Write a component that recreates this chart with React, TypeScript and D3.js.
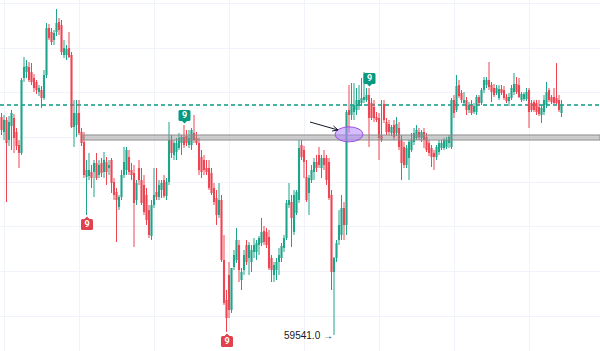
import { useEffect, useRef } from "react";
import * as d3 from "d3";

// OHLC, one entry per candle
const opens = [
  60195, 60150, 60186, 60126, 60168, 60192, 60150, 60111, 60087, 60312,
  60330, 60345, 60330, 60312, 60300, 60270, 60276, 60252, 60321, 60462,
  60450, 60426, 60450, 60480, 60471, 60381, 60381, 60402, 60381, 60165,
  60171, 60207, 60150, 60120, 60015, 60018, 60030, 60030, 60057, 60021,
  60057, 60030, 60060, 60042, 60066, 60000, 59970, 59925, 59955, 60021,
  60036, 60075, 60036, 60027, 59946, 60042, 60006, 59991, 59961, 59916,
  59838, 59931, 59970, 59955, 59976, 60006, 59958, 60000, 60126, 60081,
  60090, 60102, 60117, 60135, 60138, 60111, 60111, 60147, 60132, 60117,
  60075, 60066, 60042, 60042, 60027, 59982, 59952, 59901, 59946, 59766,
  59646, 59721, 59616, 59745, 59766, 59811, 59706, 59736, 59811, 59772,
  59760, 59790, 59790, 59811, 59817, 59853, 59850, 59835, 59772, 59721,
  59736, 59760, 59772, 59802, 59832, 59931, 59940, 59850, 59907, 59946,
  60111, 60096, 60015, 59967, 60006, 60030, 60060, 60081, 60042, 60072,
  60072, 60060, 59961, 59730, 59772, 59826, 59841, 59922, 59871, 60216,
  60201, 60210, 60216, 60228, 60237, 60246, 60246, 60261, 60237, 60225,
  60195, 60192, 60141, 60234, 60180, 60174, 60147, 60171, 60147, 60162,
  60126, 60105, 60051, 60072, 60096, 60120, 60132, 60150, 60132, 60150,
  60135, 60117, 60102, 60087, 60075, 60090, 60102, 60102, 60105, 60117,
  60105, 60246, 60216, 60291, 60267, 60237, 60246, 60216, 60231, 60210,
  60210, 60255, 60237, 60276, 60291, 60306, 60291, 60282, 60267, 60252,
  60279, 60276, 60255, 60243, 60252, 60270, 60294, 60291, 60246, 60249,
  60249, 60276, 60237, 60240, 60237, 60225, 60201, 60210, 60231, 60276,
  60255, 60255, 60252, 60246, 60207,
];
const highs = [
  60207, 60201, 60195, 60198, 60216, 60204, 60162, 60126, 60312, 60375,
  60366, 60360, 60357, 60324, 60306, 60291, 60288, 60336, 60477, 60474,
  60462, 60456, 60519, 60492, 60486, 60426, 60411, 60450, 60390, 60246,
  60246, 60246, 60162, 60150, 60066, 60087, 60051, 60066, 60087, 60066,
  60072, 60090, 60075, 60066, 60072, 60012, 59982, 59961, 60036, 60105,
  60105, 60096, 60057, 60051, 60006, 60066, 60042, 60021, 59982, 59931,
  59946, 60042, 60042, 60006, 60006, 60021, 60012, 60180, 60141, 60126,
  60132, 60147, 60141, 60171, 60156, 60156, 60162, 60201, 60150, 60132,
  60096, 60081, 60066, 60066, 60042, 59997, 59976, 59997, 59961, 59841,
  59676, 59760, 59736, 59796, 59862, 59826, 59742, 59796, 59826, 59820,
  59811, 59832, 59826, 59838, 59892, 59868, 59862, 59856, 59781, 59760,
  59772, 59802, 59817, 59841, 59946, 59997, 59961, 59976, 59976, 60126,
  60126, 60108, 60066, 60021, 60051, 60072, 60081, 60105, 60081, 60096,
  60081, 60072, 59976, 59775, 59826, 59916, 59961, 59940, 60216, 60291,
  60297, 60297, 60282, 60291, 60312, 60330, 60282, 60282, 60252, 60246,
  60210, 60207, 60246, 60246, 60192, 60186, 60171, 60186, 60195, 60180,
  60141, 60120, 60111, 60126, 60147, 60162, 60171, 60162, 60156, 60162,
  60147, 60126, 60111, 60096, 60111, 60126, 60126, 60132, 60135, 60141,
  60252, 60261, 60321, 60306, 60276, 60270, 60255, 60240, 60246, 60237,
  60261, 60261, 60282, 60315, 60315, 60360, 60300, 60294, 60291, 60291,
  60291, 60288, 60264, 60267, 60291, 60327, 60315, 60312, 60270, 60270,
  60282, 60282, 60246, 60246, 60246, 60246, 60231, 60261, 60300, 60282,
  60261, 60282, 60357, 60261, 60246,
];
const lows = [
  60141, 60126, 59940, 60108, 60096, 60087, 60096, 60042, 60081, 60300,
  60312, 60300, 60291, 60270, 60264, 60258, 60222, 60246, 60312, 60426,
  60411, 60411, 60438, 60441, 60381, 60372, 60366, 60372, 60162, 60105,
  60135, 60141, 60108, 60012, 59901, 60006, 59982, 59955, 60006, 60012,
  60015, 60012, 59991, 60021, 59967, 59946, 59820, 59916, 59946, 60012,
  60021, 60021, 60006, 59805, 59931, 59991, 59931, 59901, 59871, 59832,
  59826, 59922, 59946, 59946, 59952, 59952, 59946, 59991, 60072, 60066,
  60066, 60096, 60081, 60102, 60108, 60102, 60096, 60117, 60111, 60021,
  60012, 60021, 60021, 59976, 59961, 59931, 59871, 59892, 59760, 59631,
  59550, 59592, 59607, 59736, 59757, 59700, 59676, 59721, 59751, 59721,
  59730, 59772, 59766, 59781, 59808, 59811, 59802, 59736, 59700, 59700,
  59706, 59721, 59760, 59790, 59826, 59922, 59805, 59841, 59901, 59937,
  60066, 60012, 59940, 59901, 59997, 60006, 60030, 60042, 60012, 60036,
  59991, 59946, 59676, 59541, 59760, 59811, 59826, 59826, 59841, 60147,
  60186, 60186, 60201, 60216, 60228, 60237, 60240, 60105, 60186, 60180,
  60180, 60066, 60120, 60177, 60141, 60141, 60138, 60126, 60138, 60096,
  60006, 60042, 60042, 60006, 60090, 60111, 60126, 60126, 60120, 60102,
  60090, 60078, 60045, 60036, 60066, 60081, 60096, 60096, 60099, 60102,
  60099, 60192, 60210, 60252, 60237, 60231, 60201, 60207, 60201, 60204,
  60201, 60231, 60231, 60267, 60282, 60276, 60240, 60255, 60261, 60246,
  60261, 60246, 60237, 60228, 60246, 60261, 60264, 60252, 60240, 60243,
  60243, 60162, 60210, 60210, 60201, 60198, 60177, 60201, 60222, 60240,
  60234, 60234, 60234, 60210, 60195,
];
const closes = [
  60156, 60186, 60117, 60180, 60207, 60132, 60108, 60087, 60306, 60345,
  60348, 60306, 60300, 60282, 60276, 60282, 60252, 60321, 60462, 60432,
  60420, 60447, 60477, 60456, 60390, 60402, 60399, 60375, 60165, 60207,
  60207, 60147, 60117, 60021, 60036, 60036, 60012, 60057, 60012, 60051,
  60027, 60066, 60030, 60051, 59997, 59961, 59946, 59955, 60021, 60060,
  60096, 60030, 60021, 59937, 59997, 60006, 59937, 59910, 59886, 59841,
  59931, 59961, 59955, 59991, 59997, 59958, 60000, 60126, 60087, 60117,
  60117, 60132, 60135, 60111, 60117, 60132, 60156, 60126, 60117, 60036,
  60030, 60036, 60030, 59982, 59967, 59940, 59901, 59946, 59766, 59637,
  59592, 59616, 59742, 59781, 59826, 59736, 59730, 59781, 59760, 59811,
  59796, 59811, 59817, 59832, 59850, 59820, 59811, 59742, 59736, 59751,
  59760, 59781, 59808, 59832, 59937, 59946, 59892, 59961, 59970, 60102,
  60075, 60060, 59946, 60012, 60036, 60060, 60042, 60051, 60072, 60051,
  60006, 59952, 59730, 59772, 59817, 59871, 59922, 59871, 60210, 60201,
  60231, 60231, 60246, 60246, 60252, 60255, 60261, 60192, 60192, 60192,
  60186, 60132, 60126, 60186, 60150, 60150, 60165, 60135, 60174, 60105,
  60057, 60051, 60102, 60120, 60126, 60147, 60156, 60135, 60150, 60126,
  60096, 60087, 60075, 60075, 60105, 60117, 60117, 60126, 60126, 60135,
  60246, 60207, 60288, 60258, 60246, 60246, 60216, 60231, 60207, 60228,
  60255, 60237, 60276, 60306, 60306, 60285, 60270, 60261, 60282, 60279,
  60267, 60252, 60243, 60255, 60282, 60294, 60270, 60255, 60264, 60264,
  60270, 60210, 60216, 60216, 60210, 60204, 60222, 60246, 60270, 60246,
  60240, 60237, 60237, 60216, 60231,
];

// grid
const gridPrices = [60537, 60403, 60269, 60135, 60001, 59867, 59733, 59599];
const gridCandles = [1, 31, 61, 91, 121, 151, 181, 211];

// drawings
const zoneLow = 60126;
const zoneHigh = 60141;
const zoneStart = 32.6;
const dashedLevel = 60231;
const buySignals = [73, 147];
const sellSignals = [34, 90];
const signalText = "9";
const circleAt = { index: 139, price: 60143 };
const arrowFrom = { index: 123.4, price: 60180 };
const arrowTo = { index: 134.6, price: 60156 };

const W = 600;
const H = 351;
const UP = "#1ea58a";
const DOWN = "#ef4452";

const App: React.FC = () => {
  const svgRef = useRef<SVGSVGElement>(null);

  useEffect(() => {
    const svg = d3.select(svgRef.current);
    svg.selectAll("*").remove();

    const candles = opens.map((o, i) => ({
      i,
      o,
      h: highs[i],
      l: lows[i],
      c: closes[i],
    }));

    const x = d3.scaleLinear().domain([0, candles.length - 1]).range([1.5, 561.5]);
    const y = d3.scaleLinear().domain([59493, 60546]).range([H, 0]);

    svg.append("rect").attr("width", W).attr("height", H).attr("fill", "#fff");

    // grid lines
    svg
      .selectAll(".hgrid")
      .data(gridPrices)
      .enter()
      .append("line")
      .attr("x1", 0)
      .attr("x2", W)
      .attr("y1", (d) => Math.round(y(d)) + 0.5)
      .attr("y2", (d) => Math.round(y(d)) + 0.5)
      .attr("stroke", "#f0f3fa");
    svg
      .selectAll(".vgrid")
      .data(gridCandles)
      .enter()
      .append("line")
      .attr("y1", 0)
      .attr("y2", H)
      .attr("x1", (d) => Math.round(x(d)) + 0.5)
      .attr("x2", (d) => Math.round(x(d)) + 0.5)
      .attr("stroke", "#f0f3fa");

    // dashed level
    svg
      .append("line")
      .attr("x1", 0)
      .attr("x2", W)
      .attr("y1", Math.round(y(dashedLevel)))
      .attr("y2", Math.round(y(dashedLevel)))
      .attr("stroke", "#44b3a2")
      .attr("stroke-width", 2)
      .attr("stroke-dasharray", "4,3");

    // candles
    const g = svg.append("g");
    g.selectAll(".wick")
      .data(candles)
      .enter()
      .append("line")
      .attr("x1", (d) => x(d.i))
      .attr("x2", (d) => x(d.i))
      .attr("y1", (d) => y(d.h))
      .attr("y2", (d) => y(d.l))
      .attr("stroke", (d) => (d.c >= d.o ? UP : DOWN))
      .attr("stroke-width", 1);
    g.selectAll(".body")
      .data(candles)
      .enter()
      .append("rect")
      .attr("x", (d) => x(d.i) - 1.05)
      .attr("width", 2.1)
      .attr("y", (d) => y(Math.max(d.o, d.c)))
      .attr("height", (d) => Math.max(1, Math.abs(y(d.o) - y(d.c))))
      .attr("fill", (d) => (d.c >= d.o ? UP : DOWN));

    // grey zone
    svg
      .append("rect")
      .attr("x", x(zoneStart))
      .attr("width", W - x(zoneStart))
      .attr("y", y(zoneHigh))
      .attr("height", y(zoneLow) - y(zoneHigh))
      .attr("fill", "rgba(140,140,140,0.42)")
      .attr("stroke", "#8c8c8c")
      .attr("stroke-width", 1);

    // ellipse
    svg
      .append("ellipse")
      .attr("cx", x(circleAt.index))
      .attr("cy", y(circleAt.price))
      .attr("rx", 14)
      .attr("ry", 7.5)
      .attr("fill", "rgba(179,136,255,0.55)")
      .attr("stroke", "#9c4fe0")
      .attr("stroke-width", 1);

    // arrow
    const ax1 = x(arrowFrom.index), ay1 = y(arrowFrom.price);
    const ax2 = x(arrowTo.index), ay2 = y(arrowTo.price);
    svg
      .append("line")
      .attr("x1", ax1)
      .attr("y1", ay1)
      .attr("x2", ax2)
      .attr("y2", ay2)
      .attr("stroke", "#131722")
      .attr("stroke-width", 1);
    const ang = Math.atan2(ay2 - ay1, ax2 - ax1);
    const head = 6;
    const hp = [ang + 0.45, ang - 0.45].map((a) => [ax2 - head * Math.cos(a), ay2 - head * Math.sin(a)]);
    svg
      .append("path")
      .attr("d", `M${hp[0][0]},${hp[0][1]}L${ax2},${ay2}L${hp[1][0]},${hp[1][1]}`)
      .attr("fill", "none")
      .attr("stroke", "#131722")
      .attr("stroke-width", 1);

    // "9" signals
    const bw = 12, bh = 11;
    buySignals.forEach((i) => {
      const cx = x(i) + 0.5;
      const bottom = y(highs[i]) - 4;
      const s = svg.append("g");
      s.append("rect")
        .attr("x", cx - bw / 2)
        .attr("y", bottom - bh)
        .attr("width", bw)
        .attr("height", bh)
        .attr("rx", 1.5)
        .attr("fill", "#089981");
      s.append("path")
        .attr("d", `M${cx - 2.5},${bottom}L${cx + 2.5},${bottom}L${cx},${bottom + 2.5}Z`)
        .attr("fill", "#089981");
      s.append("text")
        .attr("x", cx)
        .attr("y", bottom - bh / 2 + 0.5)
        .attr("text-anchor", "middle")
        .attr("dominant-baseline", "middle")
        .attr("font-family", "Roboto, sans-serif")
        .attr("font-size", "9px")
        .attr("font-weight", "bold")
        .attr("fill", "#fff")
        .text(signalText);
    });
    sellSignals.forEach((i) => {
      const cx = x(i) + 0.5;
      const top = y(lows[i]) + 4;
      const s = svg.append("g");
      s.append("rect")
        .attr("x", cx - bw / 2)
        .attr("y", top)
        .attr("width", bw)
        .attr("height", bh)
        .attr("rx", 1.5)
        .attr("fill", "#e0414f");
      s.append("path")
        .attr("d", `M${cx - 2.5},${top}L${cx + 2.5},${top}L${cx},${top - 2.5}Z`)
        .attr("fill", "#e0414f");
      s.append("text")
        .attr("x", cx)
        .attr("y", top + bh / 2 + 0.5)
        .attr("text-anchor", "middle")
        .attr("dominant-baseline", "middle")
        .attr("font-family", "Roboto, sans-serif")
        .attr("font-size", "9px")
        .attr("font-weight", "bold")
        .attr("fill", "#fff")
        .text(signalText);
    });

    // low price label
    const minLow = d3.min(lows)!;
    const minIdx = lows.indexOf(minLow);
    svg
      .append("text")
      .attr("x", x(minIdx) - 1)
      .attr("y", y(minLow) + 1)
      .attr("text-anchor", "end")
      .attr("dominant-baseline", "middle")
      .attr("font-family", "Liberation Sans, Arial, sans-serif")
      .attr("font-size", "10px")
      .attr("fill", "#131722")
      .text(`${minLow.toFixed(1)} →`);
  }, []);

  return (
    <svg
      ref={svgRef}
      width={W}
      height={H}
      style={{ position: "absolute", left: 0, top: 0 }}
    ></svg>
  );
};

export default App;
